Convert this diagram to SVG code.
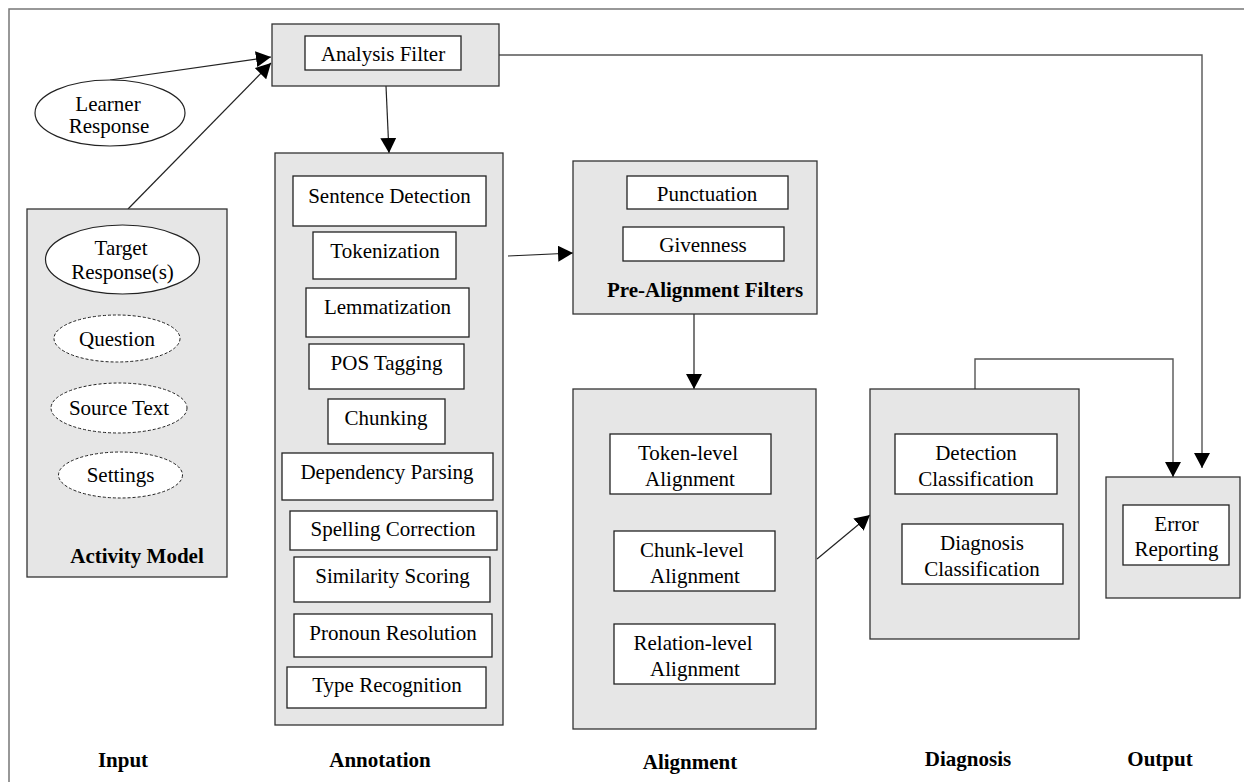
<svg xmlns="http://www.w3.org/2000/svg" width="1244" height="782" viewBox="0 0 1244 782">
<style>
text{font-family:"Liberation Serif","Times New Roman",serif;font-size:21px;fill:#000;text-anchor:middle}
.b{font-weight:bold}
.outer{fill:#e6e6e6;stroke:#333;stroke-width:1.3}
.inner{fill:#fff;stroke:#222;stroke-width:1.3}
.ell{fill:#fff;stroke:#222;stroke-width:1.2}
.dash{fill:#fff;stroke:#222;stroke-width:1;stroke-dasharray:3 2}
.con{fill:none;stroke:#222;stroke-width:1.2}
.ortho{fill:none;stroke:#555;stroke-width:1.4}
.frame{fill:none;stroke:#777;stroke-width:1.5}
</style>
<defs>
<marker id="ah" markerUnits="userSpaceOnUse" viewBox="0 0 15 16" refX="15" refY="8" markerWidth="15" markerHeight="16" orient="auto">
<path d="M0,0 L15,8 L0,16 z" fill="#000"/>
</marker>
</defs>
<rect x="0" y="0" width="1244" height="782" fill="#fff"/>
<path class="frame" d="M9,782 V9 H1244"/>

<g id="connectors">
<line class="con" x1="110" y1="80" x2="271" y2="57" marker-end="url(#ah)"/>
<line class="con" x1="128" y1="209" x2="271" y2="63" marker-end="url(#ah)"/>
<line class="con" x1="386" y1="86" x2="389" y2="153" marker-end="url(#ah)"/>
<line class="con" x1="508" y1="256" x2="573" y2="253" marker-end="url(#ah)"/>
<line class="con" x1="694" y1="314" x2="694" y2="389" marker-end="url(#ah)"/>
<line class="con" x1="817" y1="559" x2="870" y2="515" marker-end="url(#ah)"/>
<path class="ortho" d="M975,389 V359 H1173 V477" marker-end="url(#ah)"/>
<path class="ortho" d="M499,55 H1202 V468" marker-end="url(#ah)"/>
</g>

<g id="analysis-filter">
<rect class="outer" x="272" y="24" width="227" height="62"/>
<rect class="inner" x="305" y="36" width="156" height="34"/>
<text x="383" y="61">Analysis Filter</text>
</g>

<g id="learner-response">
<ellipse class="ell" cx="110" cy="113" rx="75" ry="33"/>
<text x="108" y="111">Learner</text>
<text x="109" y="133">Response</text>
</g>

<g id="activity-model">
<rect class="outer" x="27" y="209" width="200" height="368"/>
<g id="target-response">
<ellipse class="ell" cx="122.5" cy="259.5" rx="77" ry="34.5"/>
<text x="121" y="255">Target</text>
<text x="122.5" y="279">Response(s)</text>
</g>
<g id="question">
<ellipse class="dash" cx="117" cy="338.5" rx="63" ry="23.5"/>
<text x="117" y="346">Question</text>
</g>
<g id="source-text">
<ellipse class="dash" cx="119" cy="408" rx="68" ry="25"/>
<text x="119" y="415">Source Text</text>
</g>
<g id="settings">
<ellipse class="dash" cx="120.5" cy="475" rx="62" ry="23"/>
<text x="120.5" y="482">Settings</text>
</g>
<text class="b" x="137" y="563">Activity Model</text>
</g>

<g id="annotation">
<rect class="outer" x="275" y="153" width="228" height="572"/>
<g id="sentence-detection"><rect class="inner" x="293" y="176" width="193" height="50"/><text x="389.5" y="203">Sentence Detection</text></g>
<g id="tokenization"><rect class="inner" x="313" y="232" width="143" height="47"/><text x="385" y="258">Tokenization</text></g>
<g id="lemmatization"><rect class="inner" x="306" y="288" width="163" height="49"/><text x="387.5" y="314">Lemmatization</text></g>
<g id="pos-tagging"><rect class="inner" x="309" y="344" width="155" height="45"/><text x="386.5" y="370">POS Tagging</text></g>
<g id="chunking"><rect class="inner" x="328" y="399" width="117" height="45"/><text x="386" y="425">Chunking</text></g>
<g id="dependency-parsing"><rect class="inner" x="282" y="453" width="211" height="47"/><text x="387" y="479">Dependency Parsing</text></g>
<g id="spelling-correction"><rect class="inner" x="290" y="511" width="207" height="39"/><text x="393" y="536">Spelling Correction</text></g>
<g id="similarity-scoring"><rect class="inner" x="294" y="557" width="196" height="45"/><text x="392.5" y="583">Similarity Scoring</text></g>
<g id="pronoun-resolution"><rect class="inner" x="294" y="614" width="198" height="43"/><text x="393" y="640">Pronoun Resolution</text></g>
<g id="type-recognition"><rect class="inner" x="287" y="667" width="199" height="41"/><text x="387" y="692">Type Recognition</text></g>
</g>

<g id="pre-alignment-filters">
<rect class="outer" x="573" y="161" width="244" height="153"/>
<g id="punctuation"><rect class="inner" x="627" y="176" width="161" height="33"/><text x="707" y="201">Punctuation</text></g>
<g id="givenness"><rect class="inner" x="623" y="227" width="161" height="34"/><text x="703" y="252">Givenness</text></g>
<text class="b" x="705" y="297">Pre-Alignment Filters</text>
</g>

<g id="alignment">
<rect class="outer" x="573" y="389" width="243" height="340"/>
<g id="token-level"><rect class="inner" x="610" y="434" width="161" height="60"/><text x="688" y="460">Token-level</text><text x="690" y="486">Alignment</text></g>
<g id="chunk-level"><rect class="inner" x="614" y="531" width="161" height="60"/><text x="692" y="557">Chunk-level</text><text x="695" y="583">Alignment</text></g>
<g id="relation-level"><rect class="inner" x="614" y="624" width="161" height="60"/><text x="693" y="650">Relation-level</text><text x="695" y="676">Alignment</text></g>
</g>

<g id="diagnosis">
<rect class="outer" x="870" y="389" width="209" height="250"/>
<g id="detection-classification"><rect class="inner" x="895" y="434" width="162" height="60"/><text x="976" y="460">Detection</text><text x="976" y="486">Classification</text></g>
<g id="diagnosis-classification"><rect class="inner" x="902" y="524" width="161" height="60"/><text x="982" y="550">Diagnosis</text><text x="982" y="576">Classification</text></g>
</g>

<g id="output">
<rect class="outer" x="1106" y="477" width="134" height="121"/>
<g id="error-reporting"><rect class="inner" x="1123" y="505" width="106" height="60"/><text x="1176.5" y="531">Error</text><text x="1176.5" y="556">Reporting</text></g>
</g>

<g id="stage-labels">
<text class="b" x="123" y="767">Input</text>
<text class="b" x="380" y="767">Annotation</text>
<text class="b" x="690" y="769">Alignment</text>
<text class="b" x="968" y="766">Diagnosis</text>
<text class="b" x="1160" y="766">Output</text>
</g>
</svg>
